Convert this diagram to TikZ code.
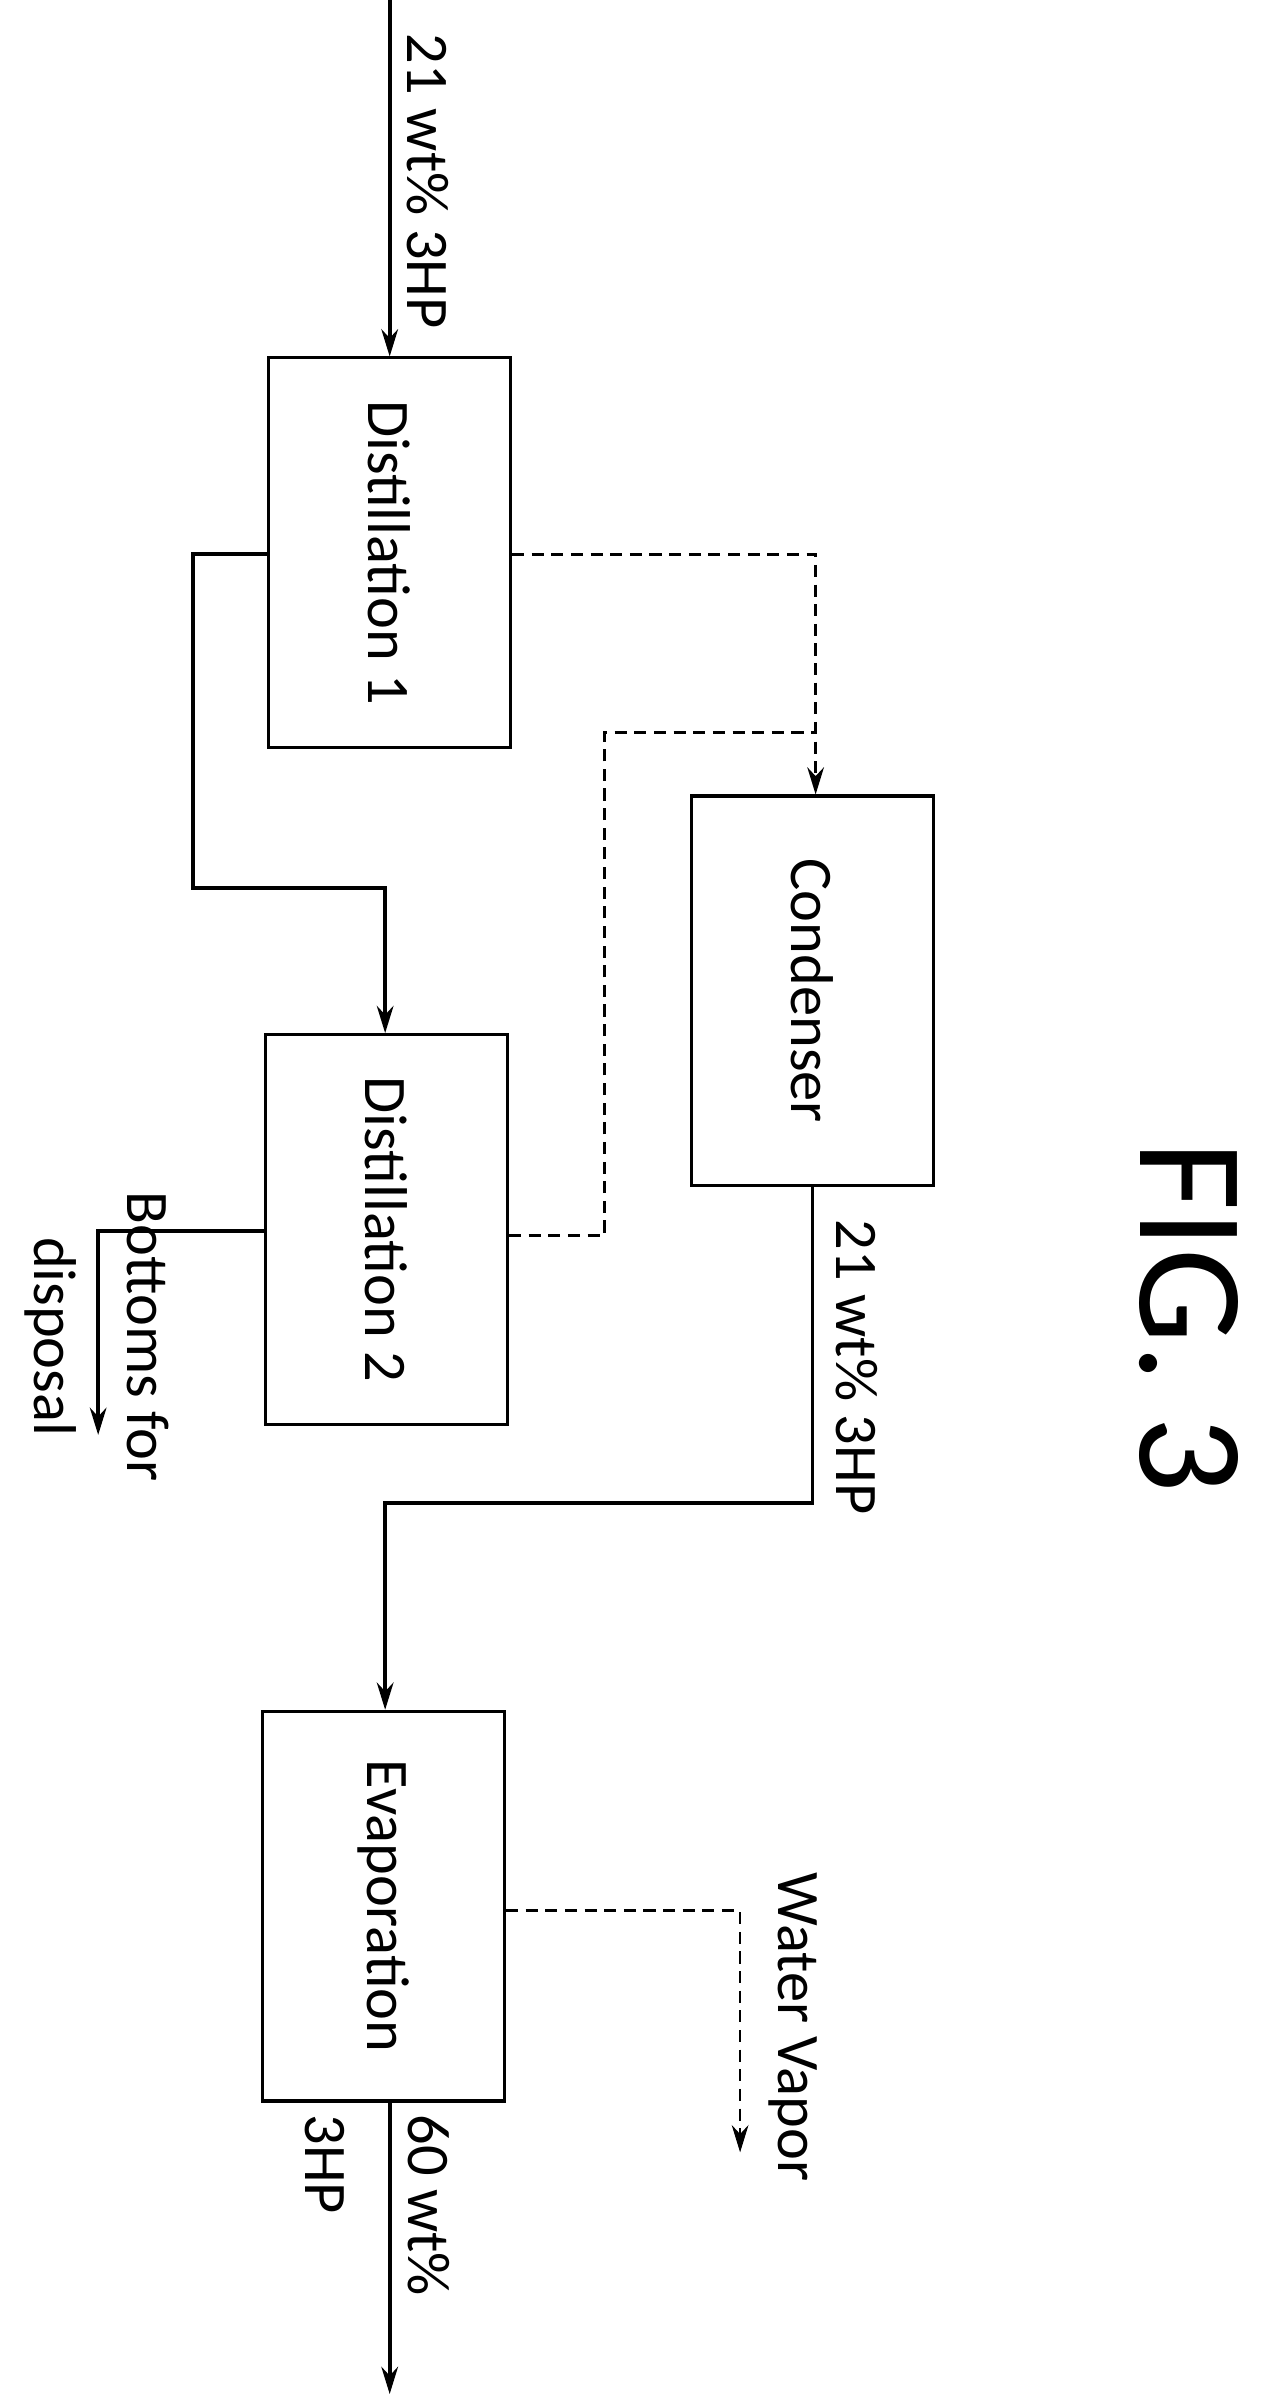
\documentclass[tikz,border=0pt]{standalone}
\usepackage{fontspec}
\setmainfont{Carlito}
\usetikzlibrary{arrows.meta}
\begin{document}
\begin{tikzpicture}[x=1pt,y=-1pt,
  box/.style={draw,line width=2pt,minimum width=160pt,minimum height=258pt,inner sep=0pt},
  txt/.style={rotate=-90,font=\fontsize{40}{44}\selectfont},
  flow/.style={line width=2.5pt,-{Stealth[length=18pt,width=11pt]}},
  dflow/.style={flow,line width=1.8pt,dash pattern=on 8pt off 5pt}]
\useasboundingbox (0,0) rectangle (850,1585);
\node[box] (d1) at (258,366) {};
\node[txt] at (d1.center) {Distillation 1};
\node[box] (c) at (538,656) {};
\node[txt] at (c.center) {Condenser};
\node[box] (d2) at (256,814) {};
\node[txt] at (d2.center) {Distillation 2};
\node[box] (ev) at (254,1262) {};
\node[txt] at (ev.center) {Evaporation};
\coordinate (in) at (258,0);
\coordinate (bot) at (65,950);
\coordinate (wv) at (490,1425);
\coordinate (out) at (258,1585);
\draw[flow] (in) -- (d1.north);
\node[txt] at (283,120) {21 wt\% 3HP};
\draw[flow] (d1.west |- 0,367) -- (128,367) -- (128,588) -- (255,588) -- (d2.north -| 255,0);
\draw[dflow] (d1.east |- 0,367) -- (540,367) -- (c.north -| 540,0);
\draw[dash pattern=on 8pt off 5pt,line width=1.8pt] (d2.east |- 0,818) -- (400,818) -- (400,485) -- (540,485);
\draw[flow] (d2.west |- 0,815) -- (65,815) -- (bot);
\node[txt,align=center,font=\fontsize{40}{62}\selectfont] at (64,885) {Bottoms for\\disposal};
\draw[flow] (c.south) -- (538,995) -- (255,995) -- (ev.north -| 255,0);
\node[txt] at (567,905) {21 wt\% 3HP};
\draw[dflow] (ev.east |- 0,1265) -- (490,1265) -- (wv);
\node[txt] at (525,1342) {Water Vapor};
\draw[flow] (ev.south -| 258,0) -- (out);
\node[txt,align=left,font=\fontsize{40}{68}\selectfont] at (250,1460) {60 wt\%\\3HP};
\node[rotate=-90,font=\fontsize{100}{105}\selectfont] at (787,872) {FIG. 3};
\end{tikzpicture}
\end{document}
